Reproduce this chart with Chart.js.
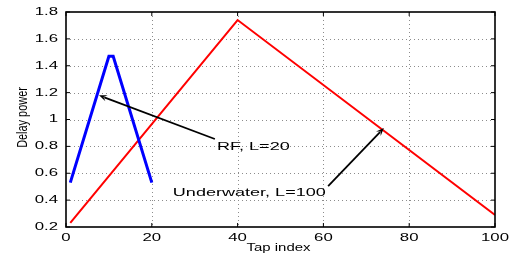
<!DOCTYPE html>
<html>
<head>
<meta charset="utf-8">
<script src="https://cdn.jsdelivr.net/npm/chart.js@4/dist/chart.umd.min.js"></script>
<style>
  html, body { margin: 0; padding: 0; background: #fff; }
  #wrap { width: 515px; height: 255px; }
</style>
</head>
<body>
<div id="wrap"><canvas id="myChart" width="515" height="255"></canvas></div>
<script>
// values
const tapRF = [1, 10, 11, 20];
const powerRF = [0.53, 1.47, 1.47, 0.53];
const tapUW = [1, 40, 100];
const powerUW = [0.23, 1.74, 0.29];
const xTicks = [0, 20, 40, 60, 80, 100];
const yTicks = [0.2, 0.4, 0.6, 0.8, 1, 1.2, 1.4, 1.6, 1.8];
const xTitle = 'Tap index';
const yTitle = 'Delay power';

// annotations: label, text anchor (data), arrow tail and tip (data)
const notes = [
  { text: 'RF, L=20', at: [35.2, 0.795], from: [34.7, 0.855], to: [7.7, 1.18] },
  { text: 'Underwater, L=100', at: [24.9, 0.453], from: [61.1, 0.505], to: [74.1, 0.937] }
];

const FONT = '"Liberation Sans", Arial, Helvetica, sans-serif';

function toPts(xs, ys) {
  return xs.map((x, i) => ({ x: x, y: ys[i] }));
}

// the original figure is stretched sideways, so text is drawn wide
function wideText(ctx, str, x, y, size, sx, align) {
  ctx.save();
  ctx.font = size + 'px ' + FONT;
  ctx.textBaseline = 'middle';
  ctx.textAlign = 'left';
  const w = ctx.measureText(str).width * sx;
  let left = x;
  if (align === 'center') left = x - w / 2;
  if (align === 'right') left = x - w;
  ctx.translate(left, y);
  ctx.scale(sx, 1);
  ctx.fillText(str, 0, 0);
  ctx.restore();
}

// grid, frame, inward ticks, labels, annotations
const decor = {
  id: 'decor',
  beforeDatasetsDraw(chart) {
    const { ctx, chartArea: a, scales } = chart;
    const xs = scales.x, ys = scales.y;
    ctx.save();
    ctx.strokeStyle = '#8c8c8c';
    ctx.lineWidth = 1;
    ctx.setLineDash([1, 3]);
    ctx.beginPath();
    xTicks.forEach(t => {
      const px = Math.round(xs.getPixelForValue(t)) + 0.5;
      if (t > xs.min && t < xs.max) { ctx.moveTo(px, a.top); ctx.lineTo(px, a.bottom); }
    });
    yTicks.forEach(t => {
      const py = Math.round(ys.getPixelForValue(t)) + 0.5;
      if (t > ys.min && t < ys.max) { ctx.moveTo(a.left, py); ctx.lineTo(a.right, py); }
    });
    ctx.stroke();
    ctx.restore();
  },
  afterDatasetsDraw(chart) {
    const { ctx, chartArea: a, scales } = chart;
    const xs = scales.x, ys = scales.y;
    ctx.save();
    ctx.setLineDash([]);
    ctx.strokeStyle = '#000';
    ctx.fillStyle = '#000';
    ctx.lineWidth = 1.6;
    ctx.strokeRect(a.left, a.top, a.right - a.left, a.bottom - a.top);
    // inward ticks
    ctx.lineWidth = 1;
    ctx.beginPath();
    xTicks.forEach(t => {
      const px = xs.getPixelForValue(t);
      ctx.moveTo(px, a.bottom); ctx.lineTo(px, a.bottom - 4);
      ctx.moveTo(px, a.top); ctx.lineTo(px, a.top + 4);
    });
    yTicks.forEach(t => {
      const py = ys.getPixelForValue(t);
      ctx.moveTo(a.left, py); ctx.lineTo(a.left + 4, py);
      ctx.moveTo(a.right, py); ctx.lineTo(a.right - 4, py);
    });
    ctx.stroke();

    // tick labels
    xTicks.forEach(t => {
      wideText(ctx, String(t), xs.getPixelForValue(t), a.bottom + 11, 10.5, 1.6, 'center');
    });
    yTicks.forEach(t => {
      wideText(ctx, String(Number(t.toFixed(1))), a.left - 8, ys.getPixelForValue(t), 10.5, 1.6, 'right');
    });

    // axis titles
    wideText(ctx, xTitle, (a.left + a.right) / 2 - 2, a.bottom + 21, 10.7, 1.4, 'center');
    ctx.save();
    ctx.translate(23, (a.top + a.bottom) / 2 - 2);
    ctx.rotate(-Math.PI / 2);
    ctx.scale(0.78, 1);
    ctx.font = '14px ' + FONT;
    ctx.textAlign = 'center';
    ctx.textBaseline = 'middle';
    ctx.fillText(yTitle, 0, 0);
    ctx.restore();

    // arrows and their labels
    notes.forEach(n => {
      const x1 = xs.getPixelForValue(n.from[0]), y1 = ys.getPixelForValue(n.from[1]);
      const x2 = xs.getPixelForValue(n.to[0]), y2 = ys.getPixelForValue(n.to[1]);
      const ang = Math.atan2(y2 - y1, x2 - x1);
      const head = 8, wing = 3.2;
      ctx.lineWidth = 1.8;
      ctx.beginPath();
      ctx.moveTo(x1, y1);
      ctx.lineTo(x2 - Math.cos(ang) * head * 0.7, y2 - Math.sin(ang) * head * 0.7);
      ctx.stroke();
      ctx.beginPath();
      ctx.moveTo(x2, y2);
      ctx.lineTo(x2 - Math.cos(ang) * head - Math.sin(ang) * wing, y2 - Math.sin(ang) * head + Math.cos(ang) * wing);
      ctx.lineTo(x2 - Math.cos(ang) * head * 0.6, y2 - Math.sin(ang) * head * 0.6);
      ctx.lineTo(x2 - Math.cos(ang) * head + Math.sin(ang) * wing, y2 - Math.sin(ang) * head - Math.cos(ang) * wing);
      ctx.closePath();
      ctx.fill();

      wideText(ctx, n.text, xs.getPixelForValue(n.at[0]), ys.getPixelForValue(n.at[1]), 11, 1.64, 'left');
    });
    ctx.restore();
  }
};

const data = {
  datasets: [
    {
      label: 'RF, L=20',
      data: toPts(tapRF, powerRF),
      borderColor: '#0000ff',
      borderWidth: 3,
      pointRadius: 0,
      tension: 0
    },
    {
      label: 'Underwater, L=100',
      data: toPts(tapUW, powerUW),
      borderColor: '#ff0000',
      borderWidth: 2,
      pointRadius: 0,
      tension: 0
    }
  ]
};

const config = {
  type: 'line',
  data: data,
  options: {
    responsive: false,
    animation: false,
    events: [],
    layout: { padding: { left: 0, right: 20, top: 12, bottom: 0 } },
    plugins: { legend: { display: false }, tooltip: { enabled: false } },
    scales: {
      x: {
        type: 'linear',
        min: 0,
        max: 100,
        afterFit: s => { s.height = 28; },
        grid: { display: false, drawTicks: false },
        border: { display: false },
        ticks: { display: false }
      },
      y: {
        type: 'linear',
        min: 0.2,
        max: 1.8,
        afterFit: s => { s.width = 66; },
        grid: { display: false, drawTicks: false },
        border: { display: false },
        ticks: { display: false }
      }
    }
  },
  plugins: [decor]
};

new Chart(document.querySelector('#myChart'), config);
</script>
</body>
</html>
